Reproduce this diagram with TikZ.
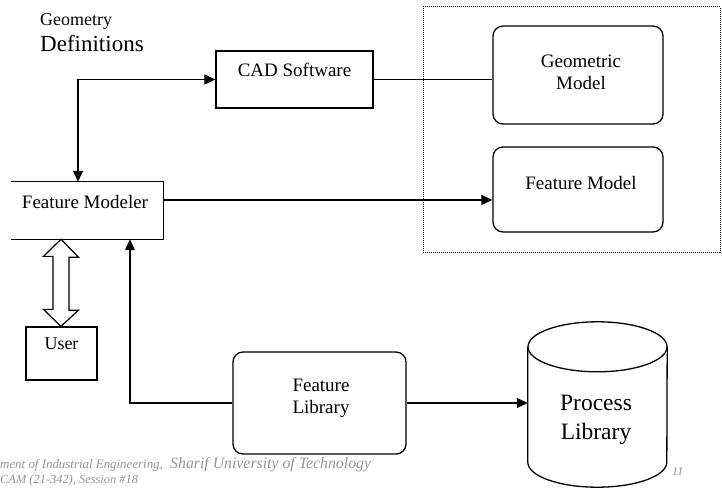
\documentclass[tikz,border=0pt]{standalone}
\usepackage{fontspec}
\setmainfont{Liberation Serif}
\usetikzlibrary{arrows.meta,calc}

\tikzset{
  box/.style={draw, line width=1.3pt, inner sep=0pt},
  rbox/.style={box, rounded corners=10pt},
  txt/.style={inner sep=0pt, align=center, font=\fontsize{19}{22}\selectfont},
  arr/.style={line width=1.2pt, -{Triangle[length=11pt,width=10pt]}},
  link/.style={line width=1.2pt},
  foot/.style={inner sep=0pt, anchor=base west, text=black!42, font=\itshape},
}

\begin{document}
\begin{tikzpicture}[x=1pt,y=-1pt]
\useasboundingbox (0,0) rectangle (722,487);
\clip (0,0) rectangle (722,487);

% heading
\node[inner sep=0pt, anchor=base west, font=\fontsize{18}{20}\selectfont] (geo) at (40,26) {Geometry};
\node[inner sep=0pt, anchor=base west, font=\fontsize{23}{26}\selectfont] (defs) at (40,52) {Definitions};

% group of models (dotted frame)
\node[draw, densely dotted, line width=1pt, minimum width=297pt, minimum height=245pt, inner sep=0pt] (grp) at (571.5,129.5) {};

% boxes
\node[box, minimum width=157pt, minimum height=57pt] (cad) at (294.5,79.5) {};
\node[txt, anchor=base] (cadtxt) at (294.5,77) {CAD Software};

\node[rbox, minimum width=170pt, minimum height=98pt] (gm) at (578,75) {};
\node[txt] (gmtxt) at (581,72) {Geometric\\Model};

\node[rbox, minimum width=170pt, minimum height=85pt] (fmod) at (578,189.5) {};
\node[txt, anchor=base] (fmodtxt) at (581,189) {Feature Model};

\node[minimum width=152pt, minimum height=57pt, inner sep=0pt] (fm) at (87,210.5) {};
\draw[line width=1.3pt] (fm.north west) -- (fm.north east) -- (fm.south east) -- (fm.south west);
\node[txt, anchor=base] (fmtxt) at (85,208) {Feature Modeler};

\node[box, minimum width=71pt, minimum height=53pt] (user) at (61.5,353.5) {};
\node[txt, anchor=base, font=\fontsize{18}{20}\selectfont] (usertxt) at (61.5,349) {User};

\node[rbox, minimum width=173pt, minimum height=102pt] (flib) at (319.5,403) {};
\node[txt] (flibtxt) at (321,398) {Feature\\Library};

% process library cylinder
\node[minimum width=139pt, minimum height=115pt, inner sep=0pt] (plib) at (597.5,404.5) {};
\draw[line width=1.3pt] (plib.north west) -- (plib.south west)
  arc[start angle=180, end angle=360, x radius=69.5pt, y radius=25pt]
  -- (plib.north east);
\draw[line width=1.3pt] (plib.north) ellipse[x radius=69.5pt, y radius=25pt];
\node[inner sep=0pt, align=center, font=\fontsize{23.5}{29}\selectfont] (plibtxt) at (596,420) {Process\\Library};

% connectors
\draw[arr, {Triangle[length=11pt,width=10pt]}-{Triangle[length=11pt,width=10pt]}]
  (cad.west) -| ([xshift=-9pt]fm.north);
\draw[link] (cad.east) -- (cad.east -| gm.west);
\coordinate (fmout) at ($(fm.north east)!0.316!(fm.south east)$);
\draw[arr] (fmout) -- (fmout -| fmod.west);
\draw[arr] (flib.west) -| ([xshift=43pt]fm.south);
\draw[arr] (flib.east) -- (flib.east -| plib.west);

% hollow two-way arrow between modeler and user
\coordinate (dtop) at ([xshift=-26pt]fm.south);
\coordinate (dbot) at ([xshift=-0.5pt]user.north);
\draw[line width=1.2pt, fill=white]
  (dtop) -- ++(17.5,18) -- ++(-9.5,0) -- ++(0,53) -- ++(9.5,0) -- (dbot)
  -- ++(-17.5,-17) -- ++(9.5,0) -- ++(0,-53) -- ++(-9.5,0) -- cycle;

% footer
\node[foot, font=\itshape\fontsize{12.9}{14}\selectfont] (f1) at (0,468) {ment of Industrial Engineering,};
\node[foot, font=\itshape\fontsize{15.8}{17}\selectfont] (f2) at (170,468) {Sharif University of Technology};
\node[foot, font=\itshape\fontsize{12.4}{14}\selectfont] (f3) at (0,483) {CAM (21-342), Session \#18};
\node[foot, font=\itshape\fontsize{12}{14}\selectfont] (pg) at (672,475) {11};
\end{tikzpicture}
\end{document}
